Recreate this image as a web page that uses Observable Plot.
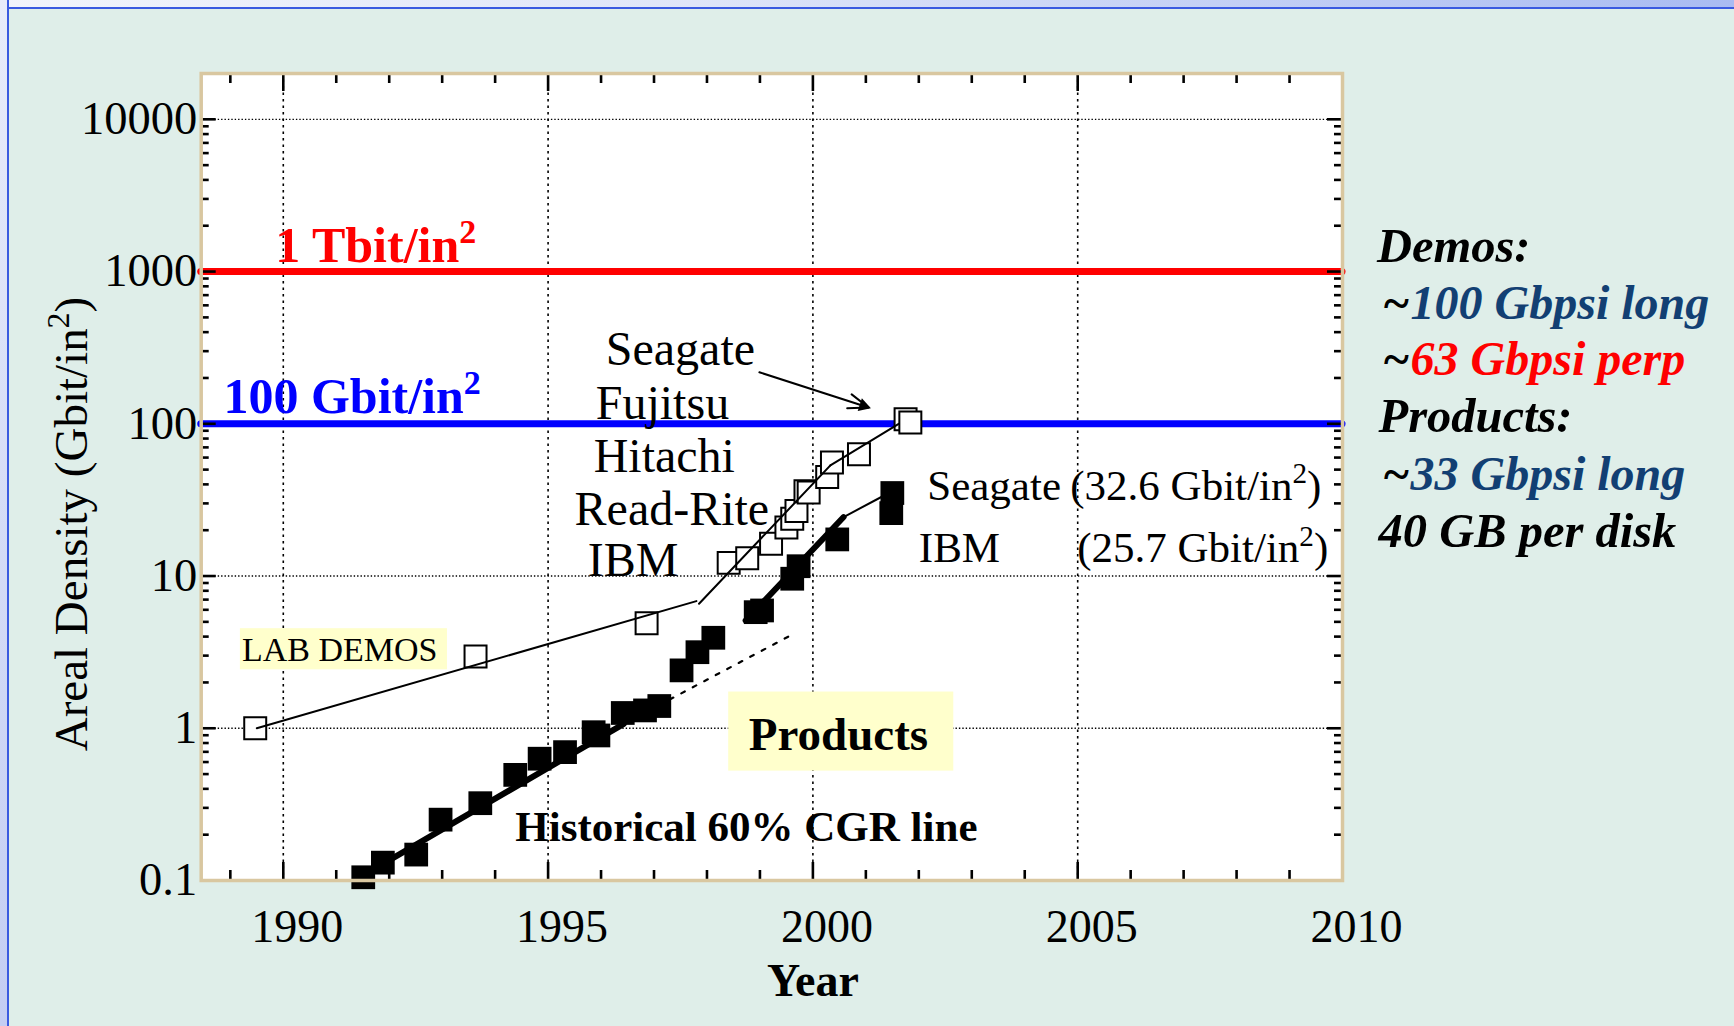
<!DOCTYPE html>
<html>
<head>
<meta charset="utf-8">
<script src="https://cdn.jsdelivr.net/npm/d3@7"></script>
<script src="https://cdn.jsdelivr.net/npm/@observablehq/plot@0.6"></script>
<style>
  html, body { margin: 0; padding: 0; overflow: hidden; }
  body { background: #DFEEE9; width: 1734px; height: 1026px; position: relative; }
  #topbar { position: absolute; left: 0; top: 0; width: 1734px; height: 7px;
    background: linear-gradient(to right, #f2f4fb, #dfe5f8 40%, #a9bbf2);
    border-bottom: 2px solid #3a5ae0; }
  #leftbar { position: absolute; left: 0; top: 0; width: 7px; height: 1026px;
    background: linear-gradient(to bottom, #e8ecfa, #c3cdf3);
    border-right: 2px solid #3a5ae0; }
  #chart { position: absolute; left: 0; top: 0; }
</style>
</head>
<body>
<div id="topbar"></div>
<div id="leftbar"></div>
<div id="chart"></div>
<script>
// ---------- data ----------
const demoYear    = [1989.47, 1993.63, 1996.86, 1998.41, 1998.76, 1999.21, 1999.50, 1999.61, 1999.69, 1999.86, 1999.92, 2000.27, 2000.36, 2000.87, 2001.75, 2001.84];
const demoDensity = [1.0,     2.96,    4.9,     12.2,    13.1,    16.3,    20.8,    23.8,    26.7,    36.1,    35.4,    44.7,    55.7,    63,      107,     102];

const productYear    = [1991.51, 1991.88, 1992.51, 1992.97, 1993.72, 1994.38, 1994.84, 1995.32, 1995.86, 1995.95, 1996.41, 1996.83, 1997.10, 1997.52, 1997.82, 1998.12, 1998.92, 1999.04, 1999.61, 1999.73, 2000.46, 2001.50, 2001.48];
const productDensity = [0.105,   0.131,   0.148,   0.251,   0.322,   0.494,   0.631,   0.697,   0.942,   0.897,   1.26,    1.31,    1.40,    2.40,    3.16,    3.93,    5.79,    5.94,    9.6,     11.6,    17.4,    35.1,    25.9];

// trend segments (endpoints)
const demoTrendA = {year: [1989.50, 1997.80], density: [1.0, 6.84]};
const demoTrendB = {year: [1997.85, 2000.33], density: [6.58, 53.3]};
const demoTrendC = {year: [2000.33, 2001.62], density: [53.3, 100]};
const cgrSolid   = {year: [1991.55, 1996.43], density: [0.11, 1.07]};
const cgrDotted  = {year: [1996.43, 1999.64], density: [1.07, 4.18]};
const fastSolid  = {year: [1998.73, 2000.58], density: [5.1, 24.4]};
const fastThin   = {year: [2000.58, 2001.31], density: [24.4, 33.3]};

const milestoneValues = [1000, 100];
const milestoneColors = ["#FF0000", "#0000FF"];

const xTickValues = [1990, 1995, 2000, 2005, 2010];
const xTickLabels = ["1990", "1995", "2000", "2005", "2010"];
const yTickValues = [0.1, 1, 10, 100, 1000, 10000];
const yTickLabels = ["0.1", "1", "10", "100", "1000", "10000"];
const xGridValues = [1990, 1995, 2000, 2005];
const yGridValues = [1, 10, 100, 1000, 10000];

// ---------- build ----------
const FONT = '"Liberation Serif", "Times New Roman", Times, serif';
const toPts = s => s.year.map((y, i) => ({year: y, density: s.density[i]}));
const demos = demoYear.map((y, i) => ({year: y, density: demoDensity[i]}));
const products = productYear.map((y, i) => ({year: y, density: productDensity[i]}));

const yMinor = [0.1, 1, 10, 100, 1000, 10000]
  .flatMap(d => [2, 3, 4, 5, 6, 7, 8, 9].map(m => d * m)).filter(v => v < 20000);
const xMinor = d3.range(1989, 2010).filter(y => y % 5 !== 0);

const W = 1734, H = 1026;
const mL = 200.7, mT = 73, mR = 392, mB = 146;
const plotW = W - mL - mR, plotH = H - mT - mB;

const T = (data, opts) => Plot.text(data, {fontFamily: FONT, textAnchor: "start", lineAnchor: "bottom", ...opts});

const chart = Plot.plot({
  width: W, height: H,
  marginLeft: mL, marginTop: mT, marginRight: mR, marginBottom: mB,
  x: {domain: [1988.45, 2010]},
  y: {type: "log", domain: [0.1, 20000]},
  style: {background: "transparent", fontFamily: FONT, overflow: "visible"},
  marks: [
    Plot.frame({fill: "white", stroke: "none"}),
    // grid
    Plot.ruleX(xGridValues, {x: d => d, stroke: "black", strokeWidth: 1.6, strokeDasharray: "2.5,4"}),
    Plot.ruleY(yGridValues, {y: d => d, stroke: "black", strokeWidth: 1.4, strokeDasharray: "1.4,2"}),
    // highlight boxes
    Plot.rect([{x1: 1989.19, x2: 1993.10, y1: 2.42, y2: 4.51}], {x1: "x1", x2: "x2", y1: "y1", y2: "y2", fill: "#FFFFCC"}),
    Plot.rect([{x1: 1998.41, x2: 2002.66, y1: 0.523, y2: 1.73}], {x1: "x1", x2: "x2", y1: "y1", y2: "y2", fill: "#FFFFCC"}),
    // milestone lines
    Plot.ruleY(milestoneValues, {y: d => d, stroke: (d, i) => milestoneColors[i], strokeWidth: 7, strokeLinecap: "round"}),
    // frame ticks (inward)
    Plot.tickY(yTickValues, {y: d => d, insetRight: plotW - 15, strokeWidth: 2.6}),
    Plot.tickY(yTickValues, {y: d => d, insetLeft: plotW - 15, strokeWidth: 2.6}),
    Plot.tickY(yMinor, {y: d => d, insetRight: plotW - 8, strokeWidth: 2.6}),
    Plot.tickY(yMinor, {y: d => d, insetLeft: plotW - 8, strokeWidth: 2.6}),
    Plot.tickX(xGridValues, {x: d => d, insetTop: plotH - 18, strokeWidth: 2.6}),
    Plot.tickX(xGridValues, {x: d => d, insetBottom: plotH - 18, strokeWidth: 2.6}),
    Plot.tickX(xMinor, {x: d => d, insetTop: plotH - 10, strokeWidth: 2.6}),
    Plot.tickX(xMinor, {x: d => d, insetBottom: plotH - 10, strokeWidth: 2.6}),
    // demos
    Plot.dot(demos, {x: "year", y: "density", symbol: "square", r: 12.4, fill: "white", stroke: "black", strokeWidth: 2}),
    Plot.line(toPts(demoTrendA), {x: "year", y: "density", stroke: "black", strokeWidth: 2}),
    Plot.line(toPts(demoTrendB), {x: "year", y: "density", stroke: "black", strokeWidth: 2}),
    Plot.line(toPts(demoTrendC), {x: "year", y: "density", stroke: "black", strokeWidth: 2}),
    // products
    Plot.dot(products, {x: "year", y: "density", symbol: "square", r: 13.4, fill: "black"}),
    Plot.line(toPts(cgrSolid), {x: "year", y: "density", stroke: "black", strokeWidth: 6}),
    Plot.line(toPts(cgrDotted), {x: "year", y: "density", stroke: "black", strokeWidth: 2.2, strokeDasharray: "4,9"}),
    Plot.line(toPts(fastSolid), {x: "year", y: "density", stroke: "black", strokeWidth: 6}),
    Plot.line(toPts(fastThin), {x: "year", y: "density", stroke: "black", strokeWidth: 2}),
    // arrow to Seagate demo
    Plot.arrow([{x1: 1998.99, y1: 218, x2: 2001.05, y2: 128}], {x1: "x1", y1: "y1", x2: "x2", y2: "y2", strokeWidth: 2, headLength: 16, headAngle: 40}),
    Plot.dot([{x: 2001.05, y: 128}], {x: "x", y: "y", symbol: "triangle", r: 5, fill: "black", rotate: 108, dx: -5, dy: -1.6}),
    // axes
    Plot.axisY(yTickValues, {tickSize: 0, tickPadding: 4, fontSize: 46.5, fontFamily: FONT, label: null,
      tickFormat: d => yTickLabels[yTickValues.indexOf(d)]}),
    Plot.axisX(xTickValues, {tickSize: 0, tickPadding: 29, dx: 14, fontSize: 46, fontFamily: FONT, label: null,
      tickFormat: d => xTickLabels[xTickValues.indexOf(d)]}),
    Plot.text(["Areal Density (Gbit/in²)"], {frameAnchor: "left", rotate: -90, dx: -129.7, dy: 47, fontSize: 47, fontFamily: FONT, lineAnchor: "middle", textAnchor: "middle"}),
    Plot.text(["Year"], {x: () => 2000, frameAnchor: "bottom", lineAnchor: "bottom", dy: 115, fontSize: 46, fontWeight: "bold", fontFamily: FONT}),
    // milestone labels
    T([{t: "1 Tbit/in²", x: 1989.85, y: 1150}], {x: "x", y: "y", text: "t", fill: "#FF0000", fontSize: 50, fontWeight: "bold"}),
    T([{t: "100 Gbit/in²", x: 1988.87, y: 117}], {x: "x", y: "y", text: "t", fill: "#0000FF", fontSize: 50, fontWeight: "bold"}),
    // company labels
    T([
      {t: "Seagate", x: 1996.09, y: 242},
      {t: "Fujitsu", x: 1995.90, y: 108},
      {t: "Hitachi", x: 1995.86, y: 48},
      {t: "Read-Rite", x: 1995.50, y: 21.8},
      {t: "IBM", x: 1995.75, y: 9.93}
    ], {x: "x", y: "y", text: "t", fontSize: 48}),
    T([
      {t: "Seagate", x: 2002.16, y: 31.8},
      {t: "(32.6 Gbit/in²)", x: 2004.86, y: 31.8},
      {t: "IBM", x: 2002.00, y: 12.3},
      {t: "(25.7 Gbit/in²)", x: 2004.99, y: 12.3}
    ], {x: "x", y: "y", text: "t", fontSize: 43}),
    T([{t: "LAB DEMOS", x: 1989.22, y: 2.76}], {x: "x", y: "y", text: "t", fontSize: 34}),
    T([{t: "Products", x: 1998.79, y: 0.715}], {x: "x", y: "y", text: "t", fontSize: 47, fontWeight: "bold"}),
    T([{t: "Historical 60% CGR line", x: 1994.38, y: 0.183}], {x: "x", y: "y", text: "t", fontSize: 43, fontWeight: "bold"}),
    // right-hand summary
    T([
      {t: "Demos:", x: 2010.65, y: 1153},
      {t: "Products:", x: 2010.68, y: 88.1},
      {t: "40 GB per disk", x: 2010.68, y: 15.5}
    ], {x: "x", y: "y", text: "t", fontSize: 48.5, fontWeight: "bold", fontStyle: "italic", fill: "black"}),
    T([
      {t: "~100 Gbpsi long", x: 2010.75, y: 490},
      {t: "~33 Gbpsi long", x: 2010.75, y: 36.5}
    ], {x: "x", y: "y", text: "t", fontSize: 48, fontWeight: "bold", fontStyle: "italic", fill: "#123F73"}),
    T([{t: "~63 Gbpsi perp", x: 2010.75, y: 208}], {x: "x", y: "y", text: "t", fontSize: 48, fontWeight: "bold", fontStyle: "italic", fill: "#FF0000"}),
    // frame outline
    Plot.frame({stroke: "#D9C7A0", strokeWidth: 3.5})
  ]
});
document.getElementById("chart").appendChild(chart);

// rich-text touches from the original slide: raised "²" and a black leading "~"
const SVGNS = "http://www.w3.org/2000/svg";
const span = (txt, attrs = {}) => {
  const e = document.createElementNS(SVGNS, "tspan");
  e.textContent = txt;
  for (const k in attrs) e.setAttribute(k, attrs[k]);
  return e;
};
chart.querySelectorAll("text").forEach(t => {
  if (t.querySelector("tspan")) return;
  const s = t.textContent;
  if (s.includes("²")) {
    const fs = parseFloat(getComputedStyle(t).fontSize) || 40;
    const [a, b] = s.split("²");
    t.textContent = "";
    t.appendChild(span(a));
    t.appendChild(span("2", {"font-size": (fs * 0.68).toFixed(1), dy: (-0.38 * fs).toFixed(1)}));
    if (b) t.appendChild(span(b, {dy: (0.38 * fs).toFixed(1)}));
  } else if (s.startsWith("~")) {
    t.textContent = "";
    t.appendChild(span("~", {fill: "black"}));
    t.appendChild(span(s.slice(1), {dx: "1"}));
  }
});
</script>
</body>
</html>
